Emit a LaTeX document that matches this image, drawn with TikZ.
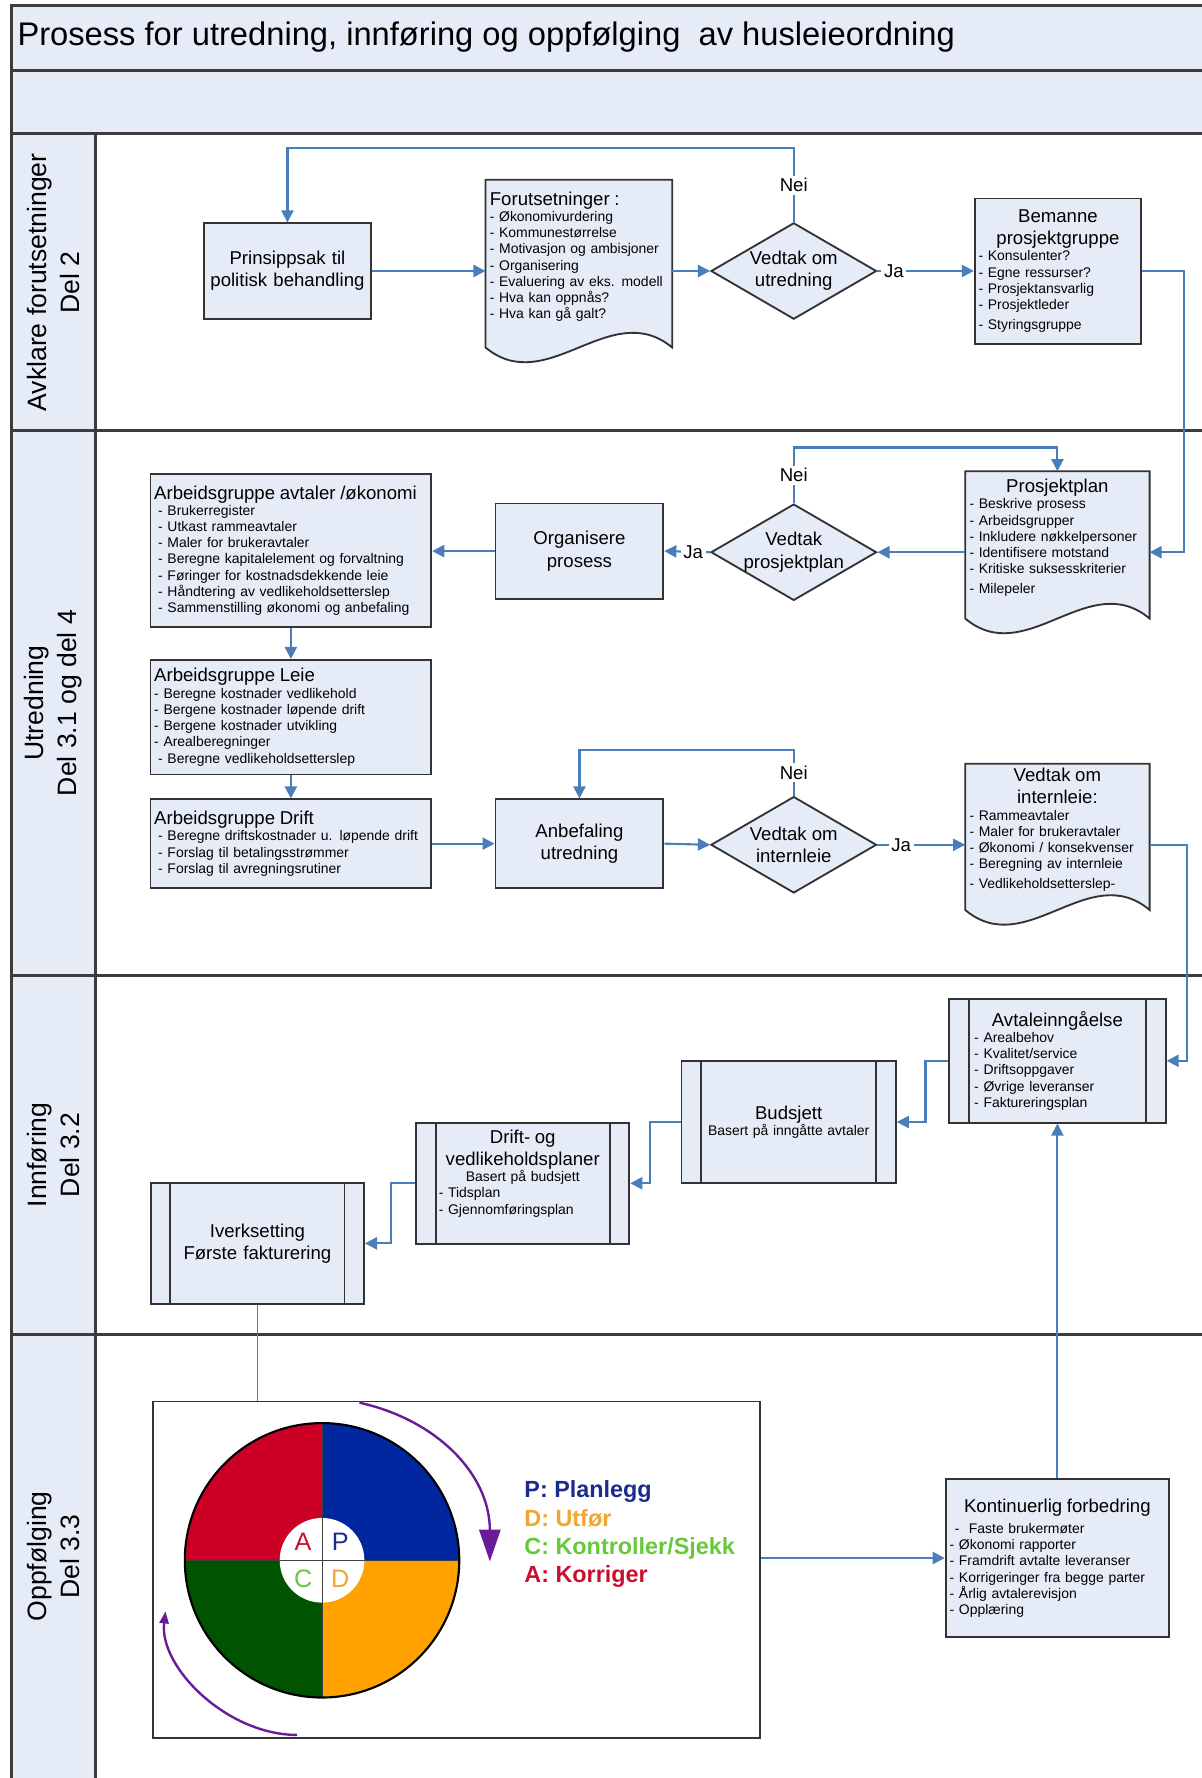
\documentclass[tikz,border=0pt]{standalone}
\usepackage{fontspec}
\setmainfont{Liberation Sans}
\usetikzlibrary{shapes.geometric, arrows.meta, calc, backgrounds}

\definecolor{boxblue}{HTML}{E6ECF7}
\definecolor{flowblue}{HTML}{4A7EBB}
\definecolor{framegray}{HTML}{3C3C3C}
\definecolor{pdcablue}{HTML}{0026A0}
\definecolor{pdcared}{HTML}{CC0026}
\definecolor{pdcaorange}{HTML}{FFA200}
\definecolor{pdcagreen}{HTML}{005300}
\definecolor{legblue}{HTML}{1C2C8C}
\definecolor{legorange}{HTML}{F2A531}
\definecolor{leggreen}{HTML}{66C93A}
\definecolor{legred}{HTML}{C8102E}
\definecolor{cyclepurple}{HTML}{6A1B9A}

\newcommand{\hdfont}{\fontsize{7}{8.4}\selectfont}
\newcommand{\lsfont}{\fontsize{5.25}{6.1}\selectfont}
% document symbol: box with a wavy lower edge
\newcommand{\docshape}[1]{%
  \filldraw[draw=black!80, line width=0.7pt, fill=boxblue]
    (#1.north west) -- (#1.south west)
    .. controls ($(#1.south west)!0.33!(#1.south east)+(0,-0.675cm)$)
       and ($(#1.south west)!0.67!(#1.south east)+(0,0.675cm)$) .. (#1.south east)
    -- (#1.north east) -- cycle;}

\begin{document}
\begin{tikzpicture}[x=0.015cm, y=-0.015cm,
    box/.style={rectangle, draw=black!80, line width=0.7pt, fill=boxblue,
                inner sep=0.05cm, align=left, font=\lsfont},
    doc/.style={rectangle, inner sep=0.05cm, align=left, font=\lsfont,
                execute at end node={\rule[-0.22cm]{0pt}{0.22cm}}},
    decision/.style={diamond, aspect=1.72, draw=black!80, line width=0.7pt,
                fill=boxblue, inner sep=-2pt, minimum width=2.19cm,
                minimum height=1.275cm, align=center, font=\hdfont},
    arr/.style={-{Triangle[length=0.16cm, width=0.16cm]}, line width=0.8pt, draw=flowblue},
    plainline/.style={line width=0.6pt, draw=flowblue},
    lbl/.style={fill=white, inner sep=1pt, font=\hdfont},
    laneline/.style={draw=framegray, line width=1.1pt},
    lanelbl/.style={rotate=90, align=center, font=\fontsize{10}{12.4}\selectfont},
    pdcaletter/.style={font=\fontsize{9.5}{10}\selectfont, inner sep=0},
    cyclearr/.style={draw=cyclepurple, line width=0.9pt}
]
\useasboundingbox (0,0) rectangle (1060,1568);

% swimlanes
\fill[boxblue] (10,5) rectangle (1060,118);
\fill[boxblue] (10,118) rectangle (84,1568);
\draw[laneline] (1060,5) -- (10,5) -- (10,1568);
\foreach \yl in {62,118,380,860,1177}
  \draw[laneline] (10,\yl) -- (1060,\yl);
\draw[laneline] (84,118) -- (84,1568);

\node[anchor=west, inner sep=0, font=\fontsize{12.3}{14}\selectfont] (title) at (15,33)
  {Prosess for utredning, innføring og oppfølging\ \ av husleieordning};

\foreach \yt/\yb/\lab [count=\i] in {118/380/{Avklare forutsetninger\\Del 2},
    380/860/{Utredning\\Del 3.1 og del 4}, 860/1177/{Innføring\\Del 3.2},
    1177/1568/{Oppfølging\\Del 3.3}}
  \node[lanelbl] (lane\i) at (47,{(\yt+\yb)/2}) {\lab};

% lane 1
\node[box, align=center, font=\hdfont, text width=2.1cm, minimum width=2.205cm,
      minimum height=1.26cm] (prinsipp) at (253.5,239)
    {Prinsippsak til\\politisk behandling};

\node[doc, text width=2.355cm, minimum width=2.415cm, minimum height=2.205cm]
    (forutset) at (510.5,232.5)
    {{\hdfont Forutsetninger :\par}
     - Økonomivurdering\\
     - Kommunestørrelse\\
     - Motivasjon og ambisjoner\\
     - Organisering\\
     - Evaluering av eks. modell\\
     - Hva kan oppnås?\\
     - Hva kan gå galt?};

\node[decision] (vedtak1) at (700,239) {Vedtak om\\utredning};

\node[box, text width=2.1cm, minimum width=2.19cm, minimum height=1.92cm]
    (bemanne) at (933,239)
    {{\centering\hdfont Bemanne\\prosjektgruppe\par}
     - Konsulenter?\\
     - Egne ressurser?\\
     - Prosjektansvarlig\\
     - Prosjektleder\\[1.5pt]
     - Styringsgruppe};

% lane 2
\node[doc, text width=2.325cm, minimum width=2.415cm, minimum height=1.935cm]
    (pplan) at (932.5,480.5)
    {{\centering\hdfont Prosjektplan\par}
     - Beskrive prosess\\
     - Arbeidsgrupper\\
     - Inkludere nøkkelpersoner\\
     - Identifisere motstand\\
     - Kritiske suksesskriterier\\[1.5pt]
     - Milepeler};

\node[decision] (vedtak2) at (700,487) {Vedtak\\prosjektplan};

\node[box, align=center, font=\hdfont, text width=2.1cm, minimum width=2.22cm,
      minimum height=1.26cm] (organisere) at (511,486) {Organisere\\prosess};

\node[box, text width=3.615cm, minimum width=3.705cm, minimum height=2.025cm]
    (agavtaler) at (256.5,485.5)
    {{\hdfont Arbeidsgruppe avtaler /økonomi\par}
     \hspace*{1.5pt}- Brukerregister\\
     \hspace*{1.5pt}- Utkast rammeavtaler\\
     \hspace*{1.5pt}- Maler for brukeravtaler\\
     \hspace*{1.5pt}- Beregne kapitalelement og forvaltning\\
     \hspace*{1.5pt}- Føringer for kostnadsdekkende leie\\
     \hspace*{1.5pt}- Håndtering av vedlikeholdsetterslep\\
     \hspace*{1.5pt}- Sammenstilling økonomi og anbefaling};

\node[box, text width=3.615cm, minimum width=3.705cm, minimum height=1.515cm]
    (agleie) at (256.5,632.5)
    {{\hdfont Arbeidsgruppe Leie\par}
     - Beregne kostnader vedlikehold\\
     - Bergene kostnader løpende drift\\
     - Bergene kostnader utvikling\\
     - Arealberegninger\\
     \hspace*{1.5pt}- Beregne vedlikeholdsetterslep};

\node[box, text width=3.615cm, minimum width=3.705cm, minimum height=1.17cm]
    (agdrift) at (256.5,744)
    {{\hdfont Arbeidsgruppe Drift\par}
     \hspace*{1.5pt}- Beregne driftskostnader u. løpende drift\\
     \hspace*{1.5pt}- Forslag til betalingsstrømmer\\
     \hspace*{1.5pt}- Forslag til avregningsrutiner};

\node[box, align=center, font=\hdfont, text width=2.1cm, minimum width=2.22cm,
      minimum height=1.17cm] (anbefaling) at (511,744) {Anbefaling\\utredning};

\node[decision] (vedtak3) at (700,745) {Vedtak om\\internleie};

\node[doc, text width=2.325cm, minimum width=2.415cm, minimum height=1.92cm]
    (vedtakdoc) at (932.5,738)
    {{\centering\hdfont Vedtak om\\internleie:\par}
     - Rammeavtaler\\
     - Maler for brukeravtaler\\
     - Økonomi / konsekvenser\\
     - Beregning av internleie\\[1.5pt]
     - Vedlikeholdsetterslep-};

% lane 3
\node[box, text width=2.2cm, minimum width=2.865cm, minimum height=1.635cm]
    (avtale) at (932.5,935.5)
    {{\centering\hdfont Avtaleinngåelse\par}
     - Arealbehov\\
     - Kvalitet/service\\
     - Driftsoppgaver\\
     - Øvrige leveranser\\
     - Faktureringsplan};

\node[box, align=center, text width=2.2cm, minimum width=2.835cm, minimum height=1.605cm]
    (budsjett) at (695.5,989.5)
    {{\hdfont Budsjett\par}
     Basert på inngåtte avtaler};

\node[box, text width=2.22cm, minimum width=2.82cm, minimum height=1.605cm]
    (driftplan) at (461,1043.5)
    {{\centering\hdfont Drift- og\\vedlikeholdsplaner\par}
     {\centering Basert på budsjett\par}
     - Tidsplan\\
     - Gjennomføringsplan\rule[-0.3cm]{0pt}{0.3cm}};

\node[box, align=center, font=\hdfont, text width=2.2cm, minimum width=2.82cm,
      minimum height=1.605cm] (iverks) at (227,1096.5)
    {Iverksetting\\Første fakturering};

\foreach \n in {avtale,budsjett,driftplan,iverks} {
  \draw[draw=black!80, line width=0.7pt]
    ([xshift=0.27cm]\n.north west) -- ([xshift=0.27cm]\n.south west);
  \draw[draw=black!80, line width=0.7pt]
    ([xshift=-0.27cm]\n.north east) -- ([xshift=-0.27cm]\n.south east);
}

% lane 4
\node[draw=black!80, line width=0.7pt, fill=white, minimum width=8.025cm,
      minimum height=4.455cm] (pdca) at (402.5,1384.5) {};

\begin{scope}[shift={(284,1376)}]
  \fill[pdcablue] (0,0) -- (0:1.815cm) arc[start angle=0, end angle=90, radius=1.815cm] -- cycle;
  \fill[pdcared] (0,0) -- (90:1.815cm) arc[start angle=90, end angle=180, radius=1.815cm] -- cycle;
  \fill[pdcagreen] (0,0) -- (180:1.815cm) arc[start angle=180, end angle=270, radius=1.815cm] -- cycle;
  \fill[pdcaorange] (0,0) -- (270:1.815cm) arc[start angle=270, end angle=360, radius=1.815cm] -- cycle;
  \fill[white] (0,0) circle[radius=0.56cm];
  \draw[black!75, line width=0.4pt] (-1.815cm,0) -- (1.815cm,0) (0,-1.815cm) -- (0,1.815cm);
  \draw[black, line width=0.8pt] (0,0) circle[radius=1.815cm];
  \node[pdcaletter, text=legred] (letA) at (-0.25cm,0.24cm) {A};
  \node[pdcaletter, text=legblue] (letP) at (0.24cm,0.24cm) {P};
  \node[pdcaletter, text=leggreen] (letC) at (-0.25cm,-0.24cm) {C};
  \node[pdcaletter, text=legorange] (letD) at (0.24cm,-0.24cm) {D};
\end{scope}

\draw[cyclearr, -{Triangle[length=0.42cm, width=0.28cm]}]
  (317,1237) .. controls (385,1252) and (432,1300) .. (432,1377);
\draw[cyclearr, -{Triangle[length=0.16cm, width=0.12cm]}]
  (262,1530) .. controls (200,1530) and (140,1470) .. (146,1421);

\node[anchor=west, align=left, inner sep=0,
      font=\bfseries\fontsize{8.8}{10.7}\selectfont] (legend) at (462,1353)
    {\textcolor{legblue}{P: Planlegg}\\
     \textcolor{legorange}{D: Utfør}\\
     \textcolor{leggreen}{C: Kontroller/Sjekk}\\
     \textcolor{legred}{A: Korriger}};

\node[box, text width=2.85cm, minimum width=2.955cm, minimum height=2.1cm]
    (kont) at (932.5,1374)
    {{\centering\hdfont Kontinuerlig forbedring\par}
     \vspace{2pt}
     \hspace*{2pt}-\ \ Faste brukermøter\\
     - Økonomi rapporter\\
     - Framdrift avtalte leveranser\\
     - Korrigeringer fra begge parter\\
     - Årlig avtalerevisjon\\
     - Opplæring};

% document symbols behind their text
\begin{scope}[on background layer]
  \foreach \n in {forutset,pplan,vedtakdoc} {\docshape{\n}}
\end{scope}

% connectors
\draw[arr] (vedtak1.north) -- node[lbl]{Nei} ++(0,-65) -| (prinsipp.north);
\draw[arr] (prinsipp.east) -- (prinsipp.east -| forutset.west);
\draw[arr] (forutset.east |- vedtak1.west) -- (vedtak1.west);
\draw[arr] (vedtak1.east) -- node[lbl, pos=0.17]{Ja} (bemanne.west);
\draw[arr] (bemanne.east) -- ++(37,0) |- (pplan.east |- vedtak2.east);

\draw[arr] (pplan.west |- vedtak2.east) -- (vedtak2.east);
\draw[arr] (vedtak2.north) -- node[lbl]{Nei} ++(0,-49) -| (pplan.north);
\draw[arr] (vedtak2.west) -- node[lbl, pos=0.37]{Ja} (organisere.east);
\draw[arr] (organisere.west) -- (organisere.west -| agavtaler.east);
\draw[arr] (agavtaler.south) -- (agleie.north);
\draw[arr] (agleie.south) -- (agdrift.north);
\draw[arr] (agdrift.east) -- (anbefaling.west);
\draw[arr] (anbefaling.east) -- (vedtak3.west);
\draw[arr] (vedtak3.north) -- node[lbl]{Nei} ++(0,-40) -| (anbefaling.north);
\draw[arr] (vedtak3.east) -- node[lbl, pos=0.27]{Ja} (vedtak3.east -| vedtakdoc.west);
\draw[arr] (vedtak3.east -| vedtakdoc.east) -- ++(33,0) |- (avtale.east);

\draw[arr] (avtale.west) -- ++(-20,0) |- (budsjett.east);
\draw[arr] (budsjett.west) -- ++(-27,0) |- (driftplan.east);
\draw[arr] (driftplan.west) -- ++(-21,0) |- (iverks.east);
\draw[plainline] (iverks.south) -- (iverks.south |- pdca.north);

\draw[arr] (pdca.east |- kont.west) -- (kont.west);
\draw[arr] (kont.north) -- (avtale.south);

\end{tikzpicture}
\end{document}
